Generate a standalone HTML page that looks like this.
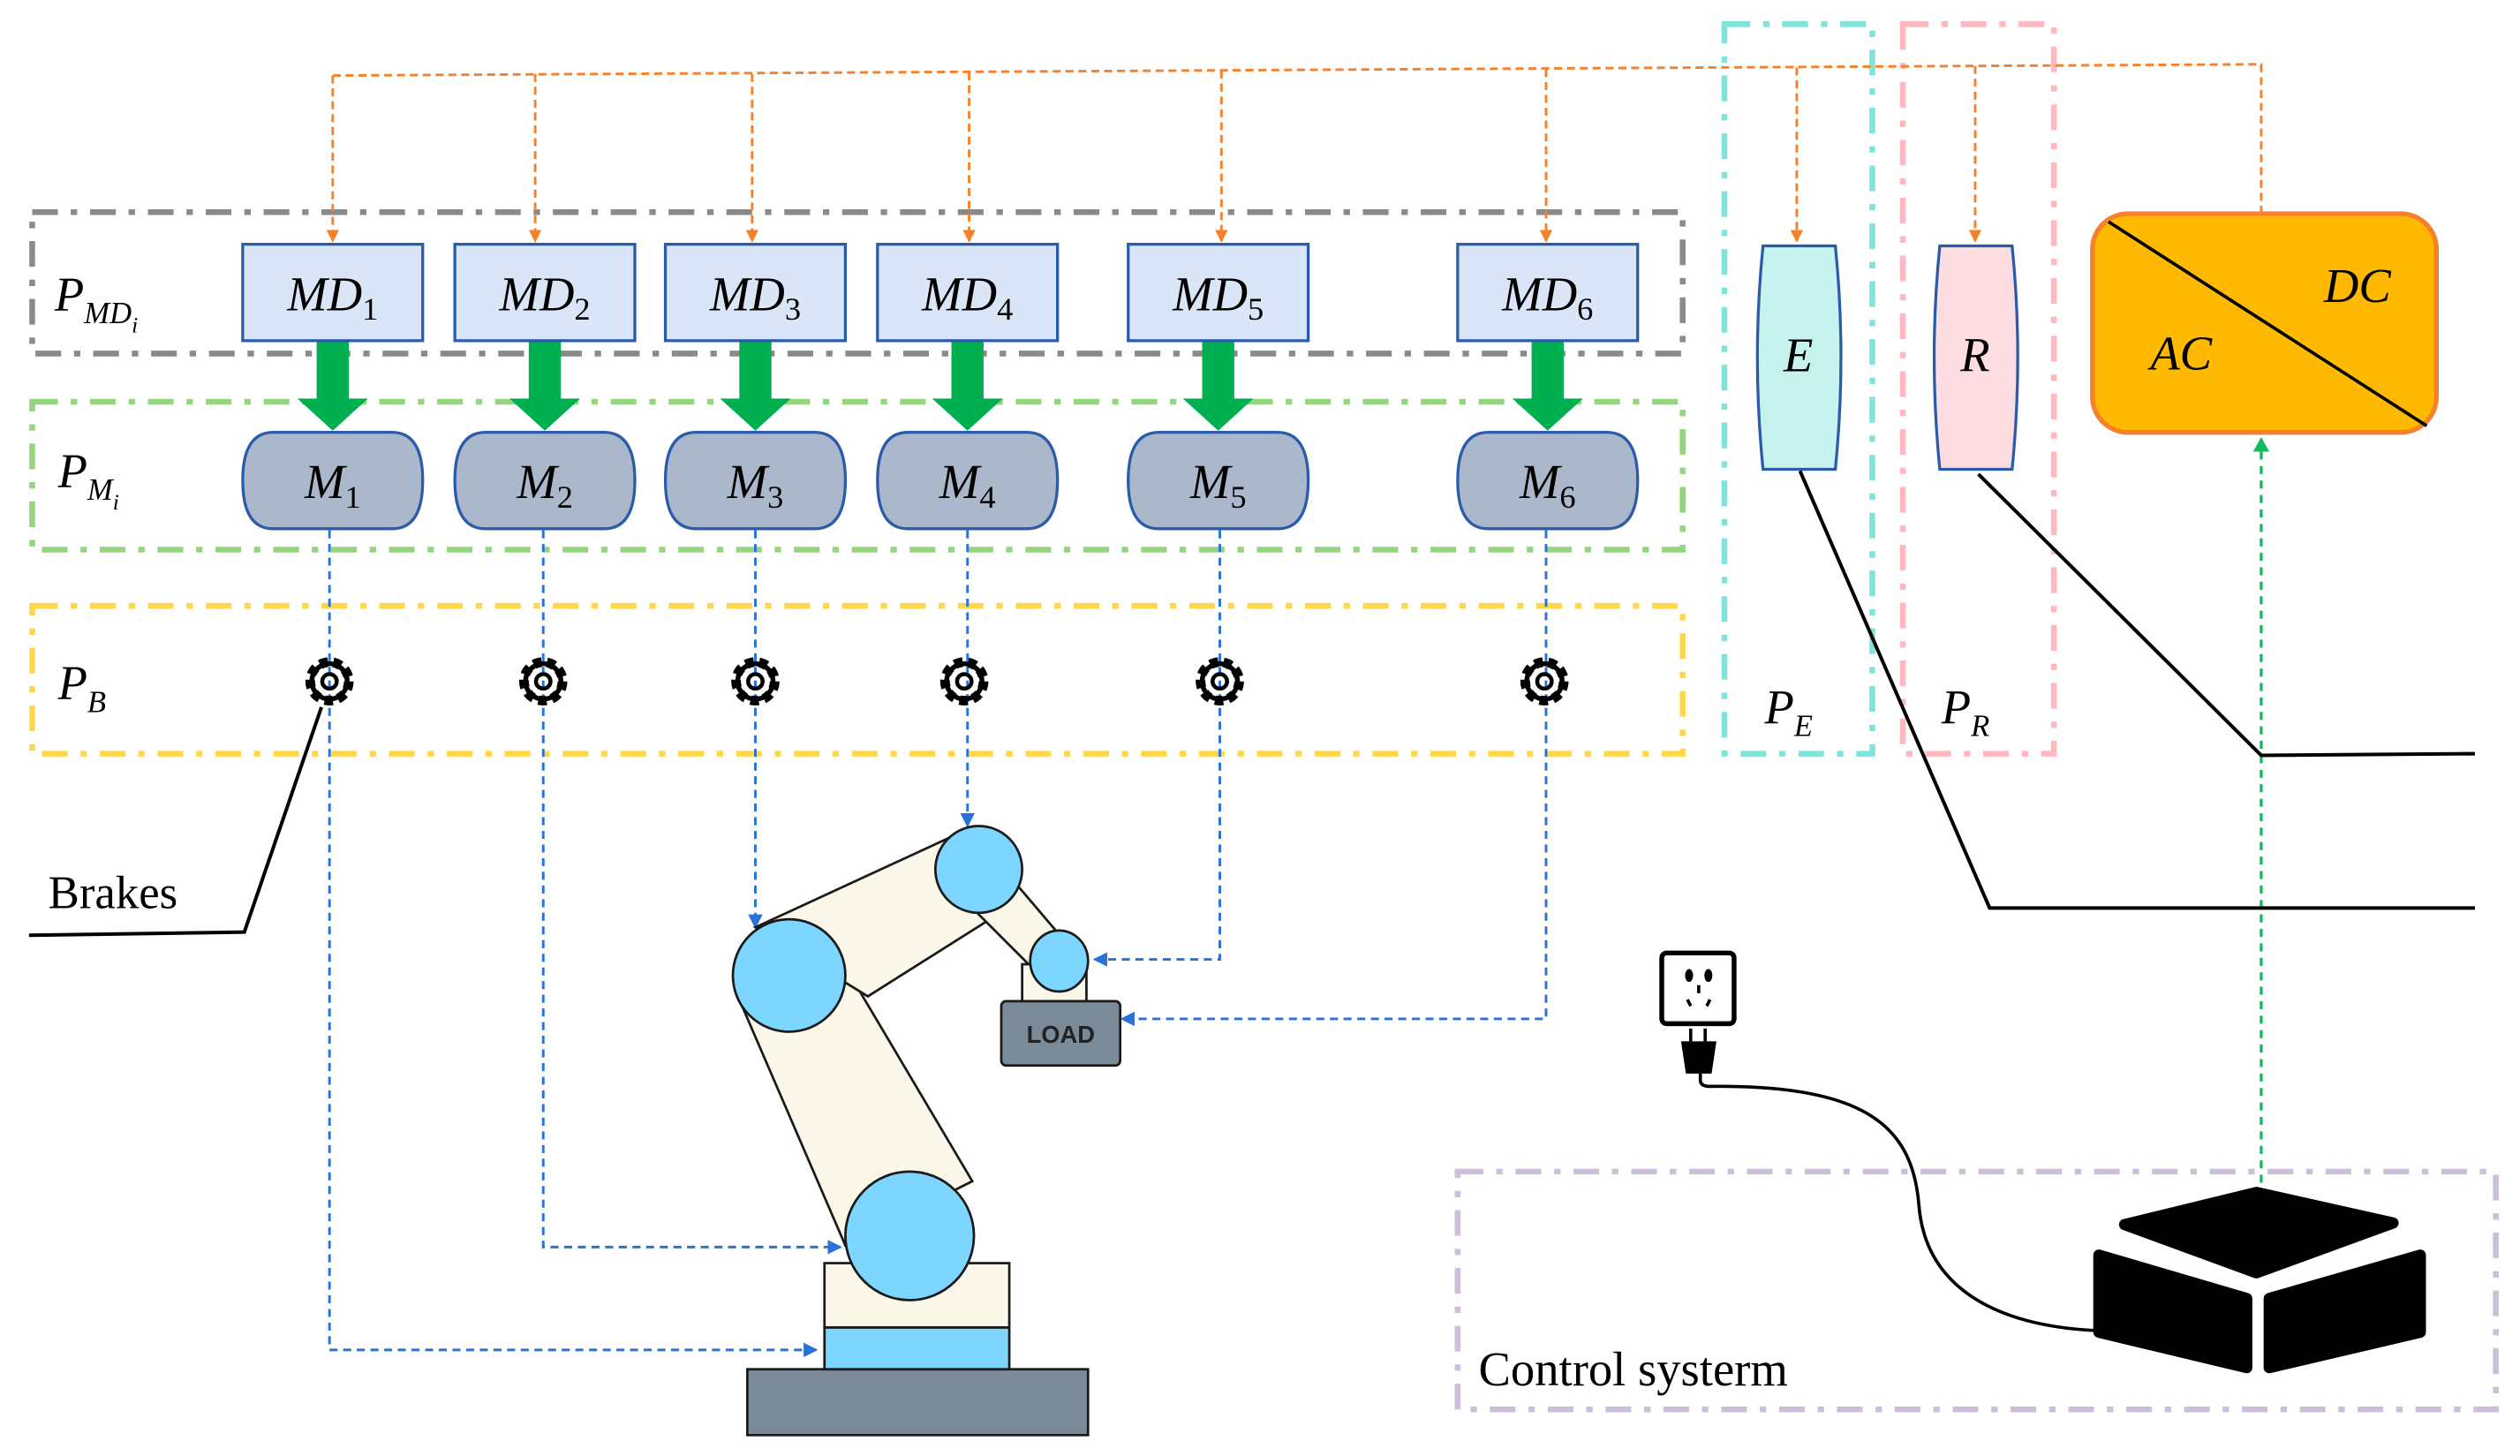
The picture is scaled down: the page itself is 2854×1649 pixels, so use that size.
<!DOCTYPE html>
<html><head><meta charset="utf-8"><style>
html,body{margin:0;padding:0;background:#fff;}
svg{display:block;}
text{font-family:"Liberation Serif",serif;}
.it{font-style:italic;}
</style></head><body>
<svg width="2854" height="1649" viewBox="0 0 1568 906" xmlns="http://www.w3.org/2000/svg">
<defs>
<marker id="ao" markerWidth="8" markerHeight="8" refX="7" refY="4" orient="auto" markerUnits="userSpaceOnUse"><path d="M0,0 L8,4 L0,8 z" fill="#F5822A"/></marker>
<marker id="ab" markerWidth="9" markerHeight="9" refX="8" refY="4.5" orient="auto" markerUnits="userSpaceOnUse"><path d="M0,0 L9,4.5 L0,9 z" fill="#2A72D6"/></marker>
<marker id="ag" markerWidth="9" markerHeight="10" refX="8" refY="5" orient="auto" markerUnits="userSpaceOnUse"><path d="M0,0 L9,5 L0,10 z" fill="#10B860"/></marker>
<g id="gear">
<circle r="12" fill="none" stroke="#000" stroke-width="6" stroke-dasharray="5 3.4"/>
<circle r="11" fill="none" stroke="#000" stroke-width="3"/>
<circle r="4.5" fill="none" stroke="#000" stroke-width="2.5"/>
</g>
</defs>

<g fill="none" stroke-width="3.6" stroke-dasharray="16 8 4 8">
<rect x="20" y="132" width="1027" height="88" stroke="#8a8a8a"/>
<rect x="20" y="250" width="1027" height="92" stroke="#93D67E"/>
<rect x="20" y="377" width="1027" height="92" stroke="#FFD84A"/>
<rect x="1073" y="15" width="92" height="454" stroke="#7FE5DC"/>
<rect x="1184" y="15" width="94" height="454" stroke="#FFB8C0"/>
<rect x="907" y="729" width="646" height="148" stroke="#CDBFDA"/>
</g>

<g fill="none" stroke="#F5822A" stroke-width="1.6" stroke-dasharray="5 3">
<polyline points="207,47 1407,40 1407,132"/>
<line x1="207" y1="47" x2="207" y2="150" marker-end="url(#ao)"/>
<line x1="333" y1="46" x2="333" y2="150" marker-end="url(#ao)"/>
<line x1="468" y1="46" x2="468" y2="150" marker-end="url(#ao)"/>
<line x1="603" y1="45" x2="603" y2="150" marker-end="url(#ao)"/>
<line x1="760" y1="44" x2="760" y2="150" marker-end="url(#ao)"/>
<line x1="962" y1="43" x2="962" y2="150" marker-end="url(#ao)"/>
<line x1="1118" y1="42" x2="1118" y2="150" marker-end="url(#ao)"/>
<line x1="1229" y1="41" x2="1229" y2="150" marker-end="url(#ao)"/>
</g>

<g fill="#00B050">
<path d="M197,212 h20 v36 h12 l-22,20 l-22,-20 h12z"/>
<path d="M197,212 h20 v36 h12 l-22,20 l-22,-20 h12z" transform="translate(132,0)"/>
<path d="M197,212 h20 v36 h12 l-22,20 l-22,-20 h12z" transform="translate(263,0)"/>
<path d="M197,212 h20 v36 h12 l-22,20 l-22,-20 h12z" transform="translate(395,0)"/>
<path d="M197,212 h20 v36 h12 l-22,20 l-22,-20 h12z" transform="translate(551,0)"/>
<path d="M197,212 h20 v36 h12 l-22,20 l-22,-20 h12z" transform="translate(756,0)"/>
</g>

<g fill="#DAE6F7" stroke="#2A5CAA" stroke-width="1.8">
<rect x="151" y="152" width="112" height="60"/>
<rect x="283" y="152" width="112" height="60"/>
<rect x="414" y="152" width="112" height="60"/>
<rect x="546" y="152" width="112" height="60"/>
<rect x="702" y="152" width="112" height="60"/>
<rect x="907" y="152" width="112" height="60"/>
</g>
<g font-size="30" text-anchor="middle">
<text x="207" y="193" class="it">MD<tspan font-size="20" font-style="normal" dy="6">1</tspan></text>
<text x="339" y="193" class="it">MD<tspan font-size="20" font-style="normal" dy="6">2</tspan></text>
<text x="470" y="193" class="it">MD<tspan font-size="20" font-style="normal" dy="6">3</tspan></text>
<text x="602" y="193" class="it">MD<tspan font-size="20" font-style="normal" dy="6">4</tspan></text>
<text x="758" y="193" class="it">MD<tspan font-size="20" font-style="normal" dy="6">5</tspan></text>
<text x="963" y="193" class="it">MD<tspan font-size="20" font-style="normal" dy="6">6</tspan></text>
</g>

<g fill="#ABB8CB" stroke="#2A5CAA" stroke-width="1.8">
<path d="M170,269 H244 Q263,269 263,299 Q263,329 244,329 H170 Q151,329 151,299 Q151,269 170,269z"/>
<path d="M170,269 H244 Q263,269 263,299 Q263,329 244,329 H170 Q151,329 151,299 Q151,269 170,269z" transform="translate(132,0)"/>
<path d="M170,269 H244 Q263,269 263,299 Q263,329 244,329 H170 Q151,329 151,299 Q151,269 170,269z" transform="translate(263,0)"/>
<path d="M170,269 H244 Q263,269 263,299 Q263,329 244,329 H170 Q151,329 151,299 Q151,269 170,269z" transform="translate(395,0)"/>
<path d="M170,269 H244 Q263,269 263,299 Q263,329 244,329 H170 Q151,329 151,299 Q151,269 170,269z" transform="translate(551,0)"/>
<path d="M170,269 H244 Q263,269 263,299 Q263,329 244,329 H170 Q151,329 151,299 Q151,269 170,269z" transform="translate(756,0)"/>
</g>
<g font-size="30" text-anchor="middle">
<text x="207" y="310" class="it">M<tspan font-size="20" font-style="normal" dy="6">1</tspan></text>
<text x="339" y="310" class="it">M<tspan font-size="20" font-style="normal" dy="6">2</tspan></text>
<text x="470" y="310" class="it">M<tspan font-size="20" font-style="normal" dy="6">3</tspan></text>
<text x="602" y="310" class="it">M<tspan font-size="20" font-style="normal" dy="6">4</tspan></text>
<text x="758" y="310" class="it">M<tspan font-size="20" font-style="normal" dy="6">5</tspan></text>
<text x="963" y="310" class="it">M<tspan font-size="20" font-style="normal" dy="6">6</tspan></text>
</g>

<g font-size="30">
<text x="34" y="193" class="it">P<tspan font-size="19" dy="8">MD</tspan><tspan font-size="14" dy="6">i</tspan></text>
<text x="36" y="303" class="it">P<tspan font-size="19" dy="8">M</tspan><tspan font-size="14" dy="6">i</tspan></text>
<text x="36" y="435" class="it">P<tspan font-size="19" dy="8">B</tspan></text>
<text x="1098" y="450" class="it">P<tspan font-size="19" dy="8">E</tspan></text>
<text x="1208" y="450" class="it">P<tspan font-size="19" dy="8">R</tspan></text>
</g>

<path d="M1097,153 H1142 Q1149,222 1142,292 H1097 Q1090,222 1097,153z" fill="#C7F3EF" stroke="#2A5CAA" stroke-width="1.8"/>
<path d="M1207,153 H1252 Q1259,222 1252,292 H1207 Q1200,222 1207,153z" fill="#FDDDE2" stroke="#2A5CAA" stroke-width="1.8"/>
<text x="1119" y="231" font-size="30" class="it" text-anchor="middle">E</text>
<text x="1229" y="231" font-size="30" class="it" text-anchor="middle">R</text>

<rect x="1302" y="133" width="214" height="136" rx="22" fill="#FFB900" stroke="#F5822A" stroke-width="3"/>
<line x1="1312" y1="138" x2="1510" y2="265" stroke="#000" stroke-width="2"/>
<text x="1338" y="230" font-size="30" class="it">AC</text>
<text x="1446" y="188" font-size="30" class="it">DC</text>

<line x1="1407" y1="745" x2="1407" y2="273" stroke="#10B860" stroke-width="1.8" stroke-dasharray="5 4" marker-end="url(#ag)"/>

<g fill="none" stroke="#000" stroke-width="2.2">
<polyline points="1231,295 1407,470 1540,469"/>
<polyline points="1120,293 1238,565 1540,565"/>
<polyline points="200,440 152,580 18,582"/>
</g>
<text x="30" y="565" font-size="29">Brakes</text>

<g fill="none" stroke="#2A72D6" stroke-width="1.6" stroke-dasharray="5 3.5">
<polyline points="205,330 205,840 508,840" marker-end="url(#ab)"/>
<polyline points="338,330 338,776 523,776" marker-end="url(#ab)"/>
<polyline points="470,330 470,577" marker-end="url(#ab)"/>
<polyline points="602,330 602,514" marker-end="url(#ab)"/>
<polyline points="759,330 759,597 681,597" marker-end="url(#ab)"/>
<polyline points="962,330 962,634 698,634" marker-end="url(#ab)"/>
</g>

<use href="#gear" x="205" y="424"/>
<use href="#gear" x="338" y="424"/>
<use href="#gear" x="470" y="424"/>
<use href="#gear" x="600" y="424"/>
<use href="#gear" x="759" y="424"/>
<use href="#gear" x="961" y="424"/>

<g stroke="#1a1a1a" stroke-width="1.5">
<rect x="465" y="852" width="212" height="41" fill="#7A8A99"/>
<rect x="513" y="826" width="115" height="26" fill="#7DD6FF"/>
<rect x="513" y="786" width="115" height="40" fill="#FBF8EA"/>
<polygon points="460,622 522,595 605,735 526,775" fill="#FBF8EA"/>
<polygon points="470,577 600,517 635,560 540,620" fill="#FBF8EA"/>
<polygon points="600,560 628,545 668,592 652,612" fill="#FBF8EA"/>
<rect x="636" y="600" width="40" height="25" fill="#FBF8EA"/>
<ellipse cx="566" cy="769" rx="40" ry="40" fill="#7DD6FF"/>
<ellipse cx="491" cy="607" rx="35" ry="35" fill="#7DD6FF"/>
<ellipse cx="609" cy="541" rx="27" ry="27" fill="#7DD6FF"/>
<ellipse cx="659" cy="598" rx="18" ry="19" fill="#7DD6FF"/>
<rect x="623" y="623" width="74" height="40" rx="3" fill="#7A8A99"/>
</g>
<text x="660" y="649" font-size="15" text-anchor="middle" fill="#222" font-weight="bold" style="font-family:'Liberation Sans',sans-serif">LOAD</text>

<rect x="1034" y="593" width="45" height="44" rx="3" fill="#fff" stroke="#000" stroke-width="3"/>
<ellipse cx="1051" cy="607" rx="2.5" ry="4" fill="#000"/>
<ellipse cx="1063" cy="607" rx="2.5" ry="4" fill="#000"/>
<rect x="1056" y="613" width="2" height="5" fill="#000"/>
<path d="M1050,622 l2,4 M1064,622 l-2,4" stroke="#000" stroke-width="2"/>
<path d="M1052,640 v8 M1061,640 v8" stroke="#000" stroke-width="2"/>
<path d="M1046,648 h22 l-3,20 h-16z" fill="#000"/>
<path d="M1058,668 v4 q0,4 6,4 C1160,675 1190,700 1194,750 C1198,800 1240,825 1305,828" fill="none" stroke="#000" stroke-width="2"/>

<g fill="#000" stroke="#000" stroke-width="7" stroke-linejoin="round">
<polygon points="1322,762 1404,742 1489,761 1404,792"/>
<polygon points="1306,781 1398,808 1398,851 1306,829"/>
<polygon points="1412,808 1506,781 1506,829 1412,851"/>
</g>
<text x="920" y="862" font-size="30">Control systerm</text>
</svg>
</body></html>
